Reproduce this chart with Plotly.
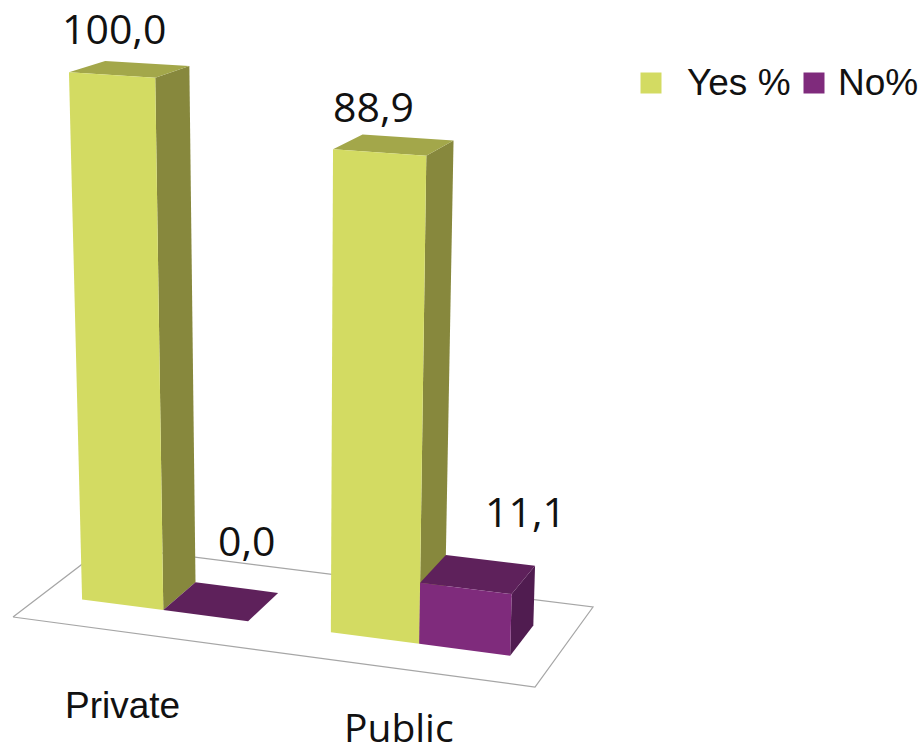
import numpy as np
import plotly.graph_objects as go

# ---- data ----
categories = ["Private", "Public"]
yes_values = [100.0, 88.9]
no_values = [0.0, 11.1]
series_names = ["Yes %", "No%"]

# ---- scene geometry (floor corners in page pixels, bar extents in floor units) ----
FLOOR_A, FLOOR_B, FLOOR_C, FLOOR_D = map(np.array, [(13, 617), (535, 687), (593, 607), (106, 546)])
GROUP_U = {"Private": (0.077, 0.236, 0.402), "Public": (0.564, 0.737, 0.915)}
V_FRONT, V_BACK = 0.32, 0.70

YES_STYLE = dict(front="#D3DB62", top="#A3A74A", side="#87883D")
NO_STYLE = dict(front="#7F2B7C", top="#5E215B", side="#501C50")
LABEL_FONT = "Open Sans, Noto Sans, sans-serif"
ARIAL = "Liberation Sans, Arial, sans-serif"


def project(u, v, z):
    """Perspective-like mapping from (floor u, floor v, value) to page pixels."""
    base = (1 - v) * ((1 - u) * FLOOR_A + u * FLOOR_B) + v * ((1 - u) * FLOOR_D + u * FLOOR_C)
    height = 538 + 33 * u - 42 * v
    lean = -15.6 + 32 * u + 5 * (v - V_FRONT)
    return base[0] + lean * z / 100, base[1] - height * z / 100


fig = go.Figure()


def poly(corners, color, name, line_color=None, width=0):
    pts = [project(*c) for c in corners]
    xs = [p[0] for p in pts] + [pts[0][0]]
    ys = [p[1] for p in pts] + [pts[0][1]]
    fig.add_trace(go.Scatter(
        x=xs, y=ys, mode="lines", fill="toself" if color else "none",
        fillcolor=color, line=dict(color=line_color or color or "rgba(0,0,0,0)", width=width),
        hoverinfo="text", text=name, showlegend=False))


def bar(u0, u1, value, style, name):
    v0, v1 = V_FRONT, V_BACK
    if value == 0:
        poly([(u0, v0, 0), (u0, v1, 0), (u1, v1, 0), (u1, v0, 0)], style["top"], name)
        return
    poly([(u1, v0, 0), (u1, v1, 0), (u1, v1, value), (u1, v0, value)], style["side"], name)
    poly([(u0, v0, value), (u0, v1, value), (u1, v1, value), (u1, v0, value)], style["top"], name)
    poly([(u0, v0, 0), (u1, v0, 0), (u1, v0, value), (u0, v0, value)], style["front"], name)


# floor
poly([(0, 0, 0), (1, 0, 0), (1, 1, 0), (0, 1, 0)], None, "floor", line_color="#A6A6A6", width=1.2)

for i, cat in enumerate(categories):
    u0, um, u1 = GROUP_U[cat]
    bar(u0, um, yes_values[i], YES_STYLE, f"{cat} {series_names[0]} {yes_values[i]}")
    bar(um, u1, no_values[i], NO_STYLE, f"{cat} {series_names[1]} {no_values[i]}")


def fmt(v):
    return f"{v:.1f}".replace(".", ",")


annotations = []


def add_text(x, y, text, size, family, xanchor="center"):
    annotations.append(dict(x=x, y=y, xref="x", yref="y", text=text, showarrow=False,
                            xanchor=xanchor, yanchor="middle",
                            font=dict(size=size, family=family, color="#111111")))


# value labels anchored on the projected bar tops
LABEL_OFFSETS = [[(-33, -36), (10, -48)], [(-35, -32), (35, -49)]]
for i, cat in enumerate(categories):
    u0, um, u1 = GROUP_U[cat]
    for j, (vals, (a, b)) in enumerate([(yes_values, (u0, um)), (no_values, (um, u1))]):
        px, py = project((a + b) / 2, V_BACK, vals[i])
        dx, dy = LABEL_OFFSETS[i][j]
        add_text(px + dx, py + dy, fmt(vals[i]), 41, LABEL_FONT)

# category labels
add_text(122, 705, categories[0], 37, ARIAL)
add_text(399, 726, categories[1], 39, LABEL_FONT)

# legend
fig.add_trace(go.Scatter(x=[651], y=[83], mode="markers", hoverinfo="skip", showlegend=False,
                         marker=dict(symbol="square", size=21, color=YES_STYLE["front"])))
fig.add_trace(go.Scatter(x=[814], y=[83], mode="markers", hoverinfo="skip", showlegend=False,
                         marker=dict(symbol="square", size=21, color=NO_STYLE["front"])))
add_text(685, 82, series_names[0], 37, ARIAL, "left")
add_text(836, 82, series_names[1], 37, ARIAL, "left")

fig.update_layout(
    width=922, height=752, margin=dict(l=0, r=0, t=0, b=0),
    paper_bgcolor="white", plot_bgcolor="white", showlegend=False,
    annotations=annotations,
    xaxis=dict(range=[0, 922], visible=False, fixedrange=True),
    yaxis=dict(range=[752, 0], visible=False, fixedrange=True),
)
fig.write_html("out.html", config=dict(displayModeBar=False),
               post_script="document.body.style.margin='0';document.documentElement.style.overflow='hidden';")
